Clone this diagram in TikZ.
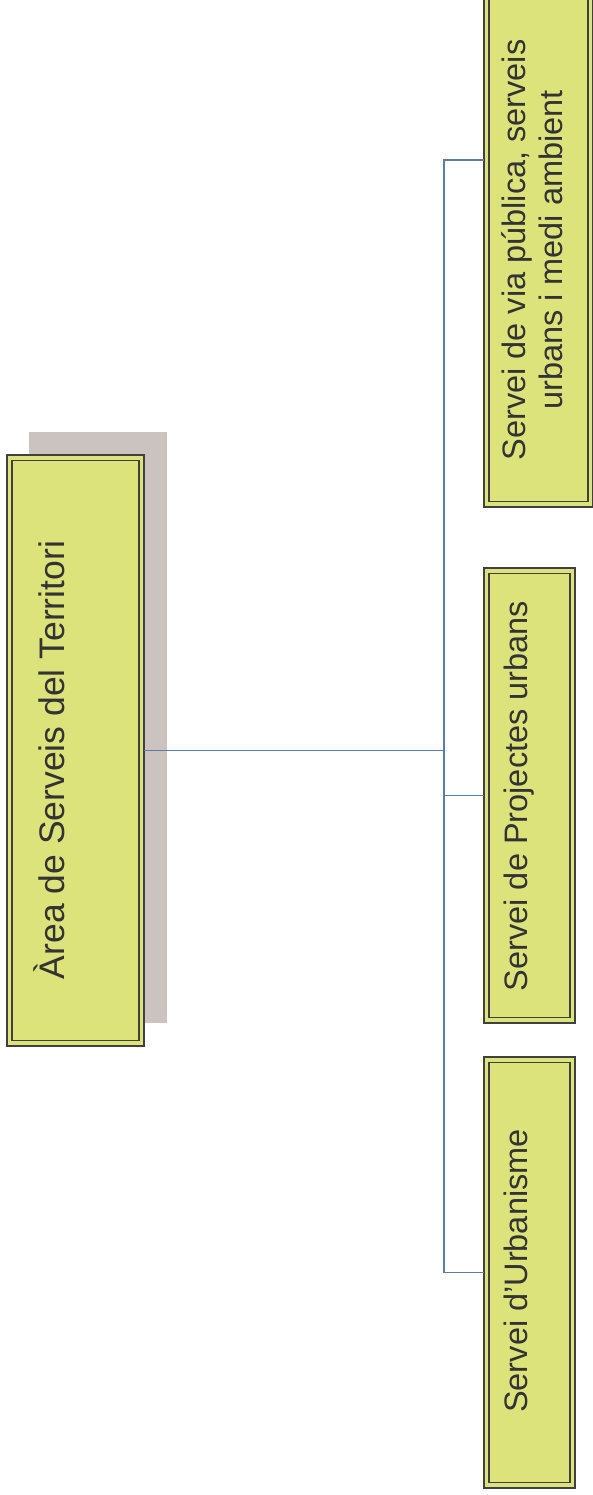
\documentclass[tikz,border=0pt]{standalone}
\usepackage{fontspec}
\setmainfont{Liberation Sans}
\begin{document}
\begin{tikzpicture}[x=1pt,y=-1pt,
  every node/.style={inner sep=0pt,outer sep=0pt},
  orgbox/.style={draw=boxline,line width=2pt,fill=boxfill,rectangle},
  innerline/.style={draw=boxline,line width=1.4pt},
  shadowbox/.style={fill=shadowc,rectangle},
  link/.style={draw=linkc,line width=1.4pt},
  lbl/.style={text=textc,rotate=90,font=\fontsize{32.5}{37}\selectfont},
]
\definecolor{boxfill}{HTML}{DDE37B}
\definecolor{boxline}{HTML}{404040}
\definecolor{shadowc}{HTML}{CBC3C0}
\definecolor{linkc}{HTML}{5E7DA6}
\definecolor{textc}{HTML}{333333}
\useasboundingbox (0,0) rectangle (593,1495);

% shadow of main box
\node[shadowbox,minimum width=138pt,minimum height=591pt] (shadow) at (98,727.5) {};

% main box
\node[orgbox,minimum width=137pt,minimum height=591pt] (main) at (75.5,750.5) {};
\draw[innerline] ([shift={(5pt,-5.5pt)}]main.north west) rectangle ([shift={(-5pt,5.5pt)}]main.south east);
\node[lbl,anchor=base,font=\fontsize{35.5}{40}\selectfont] (maint) at (64,760) {Àrea de Serveis del Territori};

% top box
\node[orgbox,minimum width=109pt,minimum height=515pt] (top) at (538.5,249.5) {};
\draw[innerline] ([shift={(5pt,-5.5pt)}]top.north west) rectangle ([shift={(-5pt,5.5pt)}]top.south east);
\node[lbl,align=center] (topt) at (532,250) {Servei de via pública, serveis\\urbans i medi ambient};

% middle box
\node[orgbox,minimum width=91pt,minimum height=455pt] (mid) at (529.5,795.5) {};
\draw[innerline] ([shift={(5pt,-5.5pt)}]mid.north west) rectangle ([shift={(-5pt,5.5pt)}]mid.south east);
\node[lbl,anchor=base] (midt) at (527,796) {Servei de Projectes urbans};

% bottom box
\node[orgbox,minimum width=91pt,minimum height=431pt] (bot) at (529.5,1272.5) {};
\draw[innerline] ([shift={(5pt,-5.5pt)}]bot.north west) rectangle ([shift={(-5pt,5.5pt)}]bot.south east);
\node[lbl,anchor=base] (bott) at (527,1271) {Servei d’Urbanisme};

% connectors
\coordinate (j) at (444,750.5);
\coordinate (b3) at (444,160);
\draw[link] (main.east) -- (j);
\draw[link] (b3 -| top.west) -- (b3) |- (bot.west);
\draw[link] (j |- mid.west) -- (mid.west);
\end{tikzpicture}
\end{document}
